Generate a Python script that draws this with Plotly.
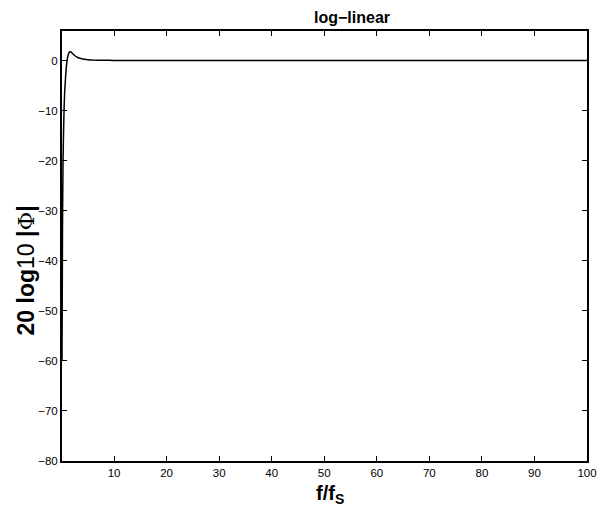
import plotly.graph_objects as go

freq = [0.1, 0.2, 0.3, 0.4, 0.5, 0.6, 0.8, 1.0, 1.2, 1.4, 1.6, 1.8, 2.0, 2.5, 3.0, 3.5, 4.0, 5.0, 6.0, 8.0, 10, 15, 20, 50, 100]
mag_db = [-60, -32, -20, -14, -9.5, -6.5, -3, -0.5, 0.8, 1.5, 1.75, 1.7, 1.5, 1.0, 0.65, 0.45, 0.32, 0.18, 0.1, 0.05, 0.02, 0.01, 0, 0, 0]
x_ticks = [10, 20, 30, 40, 50, 60, 70, 80, 90, 100]
y_ticks = [0, -10, -20, -30, -40, -50, -60, -70, -80]

FONT = "Liberation Sans, Arial, Helvetica"

fig = go.Figure()
fig.add_trace(go.Scatter(x=freq, y=mag_db, mode="lines",
                         line=dict(color="black", width=1.5, shape="spline", smoothing=0.4),
                         showlegend=False))

axis_common = dict(showgrid=False, zeroline=False, showline=True, linecolor="black", linewidth=2,
                   mirror="ticks", ticks="inside", ticklen=5, tickwidth=1.2, tickcolor="black",
                   tickfont=dict(family=FONT, size=11.5, color="black"))

fig.update_layout(
    width=600, height=498,
    margin=dict(l=54, r=11, t=23, b=45),
    paper_bgcolor="white", plot_bgcolor="white",
    title=dict(text="<b>log\u2212linear</b>", x=(352 - 8) / 600, xanchor="center",
               y=1 - (17 - 8) / 498, yanchor="middle",
               font=dict(family=FONT, size=16, color="black")),
    xaxis=dict(range=[0.1, 100], tickvals=x_ticks, **axis_common),
    yaxis=dict(range=[-80, 5.9], tickvals=y_ticks, **axis_common),
    annotations=[
        dict(text="<b>f/f<sub>S</sub></b>", xref="paper", yref="paper",
             x=(335 - 62) / 535, y=0, xanchor="center", yanchor="middle", yshift=-33,
             showarrow=False, font=dict(family=FONT, size=20, color="black")),
        dict(text="<b>20 log</b>10 <b>|</b><span style='font-family:DejaVu Serif'>\u03a6</span><b>|</b>",
             xref="paper", yref="paper", x=0, y=(453 - 266) / 422,
             xanchor="center", yanchor="middle", xshift=-36, textangle=-90,
             showarrow=False, font=dict(family=FONT, size=23, color="black")),
    ],
)

fig.write_html("out.html")
